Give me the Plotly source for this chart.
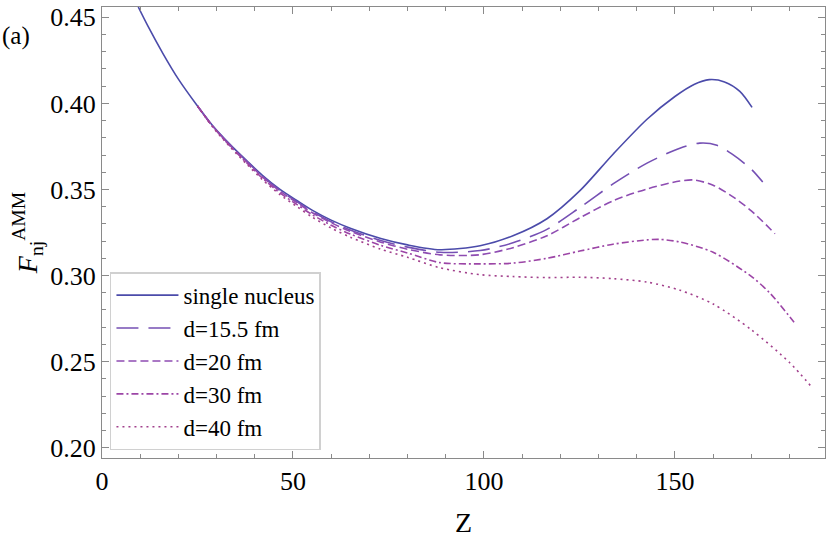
import plotly.graph_objects as go

# ---- data ----
z_single = [9.5, 12, 16, 20, 25, 29, 33.5, 38, 42, 46.6, 51, 55, 60, 65, 73, 80, 88.5,
            99, 107.6, 116.5, 125, 133.8, 142.7, 150, 155, 159, 163, 167, 170.2]
f_single = [0.456, 0.445, 0.4288, 0.4141, 0.3985, 0.3870, 0.3762, 0.3665, 0.3582, 0.3500,
            0.3436, 0.3380, 0.3322, 0.3275, 0.3215, 0.3178, 0.3150,
            0.3173, 0.3231, 0.3330, 0.3490, 0.3705, 0.3908, 0.4040, 0.4110, 0.4138,
            0.4125, 0.4070, 0.3977]

z_d155 = [25, 29, 33.5, 38, 42, 46.6, 51, 55, 60, 65, 73, 80, 88.5, 99, 107.6, 116.5,
          125, 133.8, 142.7, 151.3, 156.5, 161, 165, 170, 173]
f_d155 = [0.3985, 0.3868, 0.3759, 0.3661, 0.3577, 0.3494, 0.3429, 0.3372, 0.3313, 0.3265,
          0.3203, 0.3165, 0.3135, 0.3145, 0.3190, 0.3268, 0.3393, 0.3532, 0.3653, 0.3740,
          0.3769, 0.3757, 0.3705, 0.3618, 0.3543]

z_d20 = [25, 29, 33.5, 38, 42, 46.6, 51, 55, 60, 65, 73, 80, 88.5, 99, 107.6, 116.5,
         125.1, 133.8, 142.7, 151.3, 155, 160, 165, 170, 176.2]
f_d20 = [0.3985, 0.3867, 0.3757, 0.3658, 0.3573, 0.3490, 0.3424, 0.3366, 0.3306, 0.3257,
         0.3194, 0.3153, 0.3120, 0.3121, 0.3162, 0.3231, 0.3335, 0.3434, 0.3503, 0.3549,
         0.3555, 0.3525, 0.3460, 0.3376, 0.3243]

z_d30 = [25, 29, 33.5, 38, 42, 46.6, 51, 55, 60, 65, 73, 80, 88.5, 99, 107.6, 116.5,
         125.1, 133.8, 142.7, 146, 151.3, 160, 170, 175, 181.2]
f_d30 = [0.3985, 0.3865, 0.3753, 0.3652, 0.3566, 0.3480, 0.3413, 0.3354, 0.3292, 0.3241,
         0.3175, 0.3131, 0.3075, 0.3068, 0.3072, 0.3100, 0.3142, 0.3182, 0.3207, 0.3210,
         0.3195, 0.3135, 0.2995, 0.2895, 0.2728]

z_d40 = [25, 29, 33.5, 38, 42, 46.6, 51, 55, 60, 65, 73, 80, 88.5, 99, 107.6, 116.5,
         125.1, 133.8, 142.7, 151.3, 160, 170, 180, 185.9]
f_d40 = [0.3985, 0.3862, 0.3748, 0.3645, 0.3557, 0.3470, 0.3401, 0.3340, 0.3276, 0.3223,
         0.3153, 0.3106, 0.3045, 0.3005, 0.2994, 0.2988, 0.2990, 0.2982, 0.2962, 0.2915,
         0.2835, 0.2685, 0.2495, 0.2350]

labels = ["single nucleus", "d=15.5 fm", "d=20 fm", "d=30 fm", "d=40 fm"]
xs = [z_single, z_d155, z_d20, z_d30, z_d40]
ys = [f_single, f_d155, f_d20, f_d30, f_d40]

colors = ["#4B4BAA", "#7550B4", "#8E4CB2", "#9C45A6", "#A2408C"]
dashes = ["solid", "22px,10px", "8px,4px", "7px,3px,2px,3px", "2px,4px"]

SERIF = "Liberation Serif"

fig = go.Figure()
for i in range(5):
    fig.add_trace(go.Scatter(
        x=xs[i], y=ys[i], mode="lines", name=labels[i],
        line=dict(color=colors[i], width=1.6, dash=dashes[i], shape="spline", smoothing=0.8),
        legendgroup=f"g{i}",
    ))

axis_common = dict(
    showline=True, linecolor="#8a8a8a", linewidth=1, mirror="ticks",
    ticks="inside", tickcolor="#8a8a8a", tickwidth=1, ticklen=7,
    showgrid=False, zeroline=False, automargin=False,
    tickfont=dict(family=SERIF, size=26, color="black"),
)

fig.update_xaxes(
    range=[0, 189.3], tickvals=[0, 50, 100, 150],
    minor=dict(dtick=10, tick0=0, ticks="inside", ticklen=4, tickcolor="#8a8a8a", showgrid=False),
    title=dict(text="Z", font=dict(family=SERIF, size=28, color="black"), standoff=18),
    **axis_common,
)
fig.update_yaxes(
    range=[0.194, 0.456], tickvals=[0.20, 0.25, 0.30, 0.35, 0.40, 0.45], tickformat=".2f",
    minor=dict(dtick=0.01, tick0=0.2, ticks="inside", ticklen=4, tickcolor="#8a8a8a", showgrid=False),
    title=dict(text="<i>F</i><sub>nj</sub><sup>AMM</sup>",
               font=dict(family=SERIF, size=28, color="black"), standoff=4),
    **axis_common,
)

fig.add_annotation(text="(a)", xref="paper", yref="paper", x=-0.141, y=0.935,
                   xanchor="left", yanchor="middle", showarrow=False,
                   font=dict(family=SERIF, size=25, color="black"))

fig.update_layout(
    width=830, height=538,
    margin=dict(l=102, r=5, t=7, b=80),
    paper_bgcolor="white", plot_bgcolor="white",
    font=dict(family=SERIF, color="black"),
    showlegend=True,
    legend=dict(
        x=0.011, y=0.412, xanchor="left", yanchor="top",
        bgcolor="white", bordercolor="#d0d0d0", borderwidth=1.5,
        font=dict(family=SERIF, size=23, color="black"),
        itemwidth=62, tracegroupgap=0, traceorder="grouped",
    ),
)

fig.write_html("out.html", config={"displayModeBar": False})

# remove the browser's default page margin so the figure sits at the window origin
with open("out.html", "r", encoding="utf-8") as fh:
    html = fh.read()
html = html.replace("<head>", "<head><style>html,body{margin:0;padding:0;overflow:hidden;}</style>", 1)
with open("out.html", "w", encoding="utf-8") as fh:
    fh.write(html)
